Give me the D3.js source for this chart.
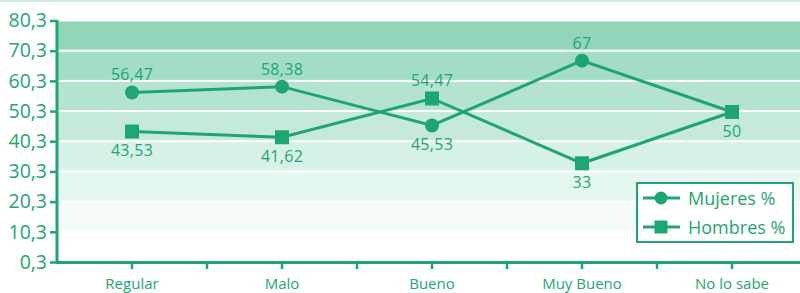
<!DOCTYPE html>
<html>
<head>
<meta charset="utf-8">
<script src="https://cdn.jsdelivr.net/npm/d3@7"></script>
<style>
  body { margin: 0; background: #fff; }
  svg { display: block; font-family: "Open Sans", sans-serif; }
</style>
</head>
<body>
<div id="chart"></div>
<script>
// Data
var categories = ["Regular", "Malo", "Bueno", "Muy Bueno", "No lo sabe"];
var mujeres = [56.47, 58.38, 45.53, 67, 50];
var hombres = [43.53, 41.62, 54.47, 33, 50];
var yTicks = [0.3, 10.3, 20.3, 30.3, 40.3, 50.3, 60.3, 70.3, 80.3];
var seriesNames = ["Mujeres %", "Hombres %"];

var width = 800, height = 293;
var green = "#1ea672";
// band fills from the top band down
var bandColors = ["#92d6ba", "#a3ddc5", "#b4e4cf", "#c5eada", "#d6f1e5", "#e6f7ef", "#f5fbf8", "#ffffff"];

var svg = d3.select("#chart").append("svg")
    .attr("width", width)
    .attr("height", height);

var x = d3.scaleBand()
    .domain(categories)
    .range([57, 807])
    .paddingInner(0).paddingOuter(0);

var y = d3.scaleLinear()
    .domain([yTicks[0], yTicks[yTicks.length - 1]])
    .range([262, 20.5]);

var fmt = function(v) { return String(v).replace(".", ","); };

// faint rule at the top edge
svg.append("rect")
    .attr("x", 0).attr("y", 0).attr("width", width).attr("height", 2)
    .attr("fill", "#cdeee0");

// background bands, top band first
var bands = d3.range(yTicks.length - 1).map(function(i) {
  return { lo: yTicks[yTicks.length - 2 - i], hi: yTicks[yTicks.length - 1 - i], c: bandColors[i] };
});

svg.append("g").selectAll("rect")
    .data(bands)
  .enter().append("rect")
    .attr("x", 58)
    .attr("y", function(d) { return y(d.hi) + 1; })
    .attr("width", width - 58)
    .attr("height", function(d) { return y(d.lo) - y(d.hi) - 2; })
    .attr("fill", function(d) { return d.c; });

// Y axis
var yAxis = svg.append("g")
    .attr("transform", "translate(57,0)")
    .call(d3.axisLeft(y)
        .tickValues(yTicks)
        .tickSize(7)
        .tickPadding(3)
        .tickFormat(fmt));

yAxis.select(".domain").attr("stroke", green).attr("stroke-width", 3)
    .attr("d", "M0," + (y(yTicks[yTicks.length - 1]) - 0.5) + "V263.5");
yAxis.selectAll(".tick line").attr("stroke", green).attr("stroke-width", 2.5);
yAxis.selectAll(".tick text")
    .attr("fill", green)
    .attr("font-size", 19.5)
    .attr("font-family", "Open Sans");

// X axis: ticks at band edges and centres
var xTickPos = [];
categories.forEach(function(c) {
  xTickPos.push(x(c) + x.bandwidth());
  xTickPos.push(x(c) + x.bandwidth() / 2);
});

var xg = svg.append("g");
xg.append("line")
    .attr("x1", 56).attr("x2", width)
    .attr("y1", 262.5).attr("y2", 262.5)
    .attr("stroke", green).attr("stroke-width", 3);
xg.selectAll("line.tk")
    .data(xTickPos)
  .enter().append("line")
    .attr("class", "tk")
    .attr("x1", function(d) { return d; }).attr("x2", function(d) { return d; })
    .attr("y1", 262).attr("y2", 269)
    .attr("stroke", green).attr("stroke-width", 2.5);
xg.selectAll("text")
    .data(categories)
  .enter().append("text")
    .attr("x", function(d) { return x(d) + x.bandwidth() / 2; })
    .attr("y", 289)
    .attr("text-anchor", "middle")
    .attr("fill", green)
    .attr("font-size", 15)
    .text(function(d) { return d; });

// Lines
var line = d3.line()
    .x(function(d, i) { return x(categories[i]) + x.bandwidth() / 2; })
    .y(function(d) { return y(d); });

[mujeres, hombres].forEach(function(s) {
  svg.append("path")
      .datum(s)
      .attr("d", line)
      .attr("fill", "none")
      .attr("stroke", green)
      .attr("stroke-width", 3);
});

// Markers
svg.append("g").selectAll("circle")
    .data(mujeres)
  .enter().append("circle")
    .attr("cx", function(d, i) { return x(categories[i]) + x.bandwidth() / 2; })
    .attr("cy", function(d) { return y(d); })
    .attr("r", 7)
    .attr("fill", green);

svg.append("g").selectAll("rect")
    .data(hombres)
  .enter().append("rect")
    .attr("x", function(d, i) { return x(categories[i]) + x.bandwidth() / 2 - 7; })
    .attr("y", function(d) { return y(d) - 7; })
    .attr("width", 14).attr("height", 14)
    .attr("fill", green);

// Value labels: higher value above, lower below, a tie gets one label below
var labels = [];
categories.forEach(function(c, i) {
  var m = mujeres[i], h = hombres[i];
  if (m === h) {
    labels.push({ i: i, v: m, above: false });
  } else {
    labels.push({ i: i, v: m, above: m > h });
    labels.push({ i: i, v: h, above: h > m });
  }
});

svg.append("g").selectAll("text")
    .data(labels)
  .enter().append("text")
    .attr("x", function(d) { return x(categories[d.i]) + x.bandwidth() / 2; })
    .attr("y", function(d) { return y(d.v) + (d.above ? -12 : 25); })
    .attr("text-anchor", "middle")
    .attr("fill", green)
    .attr("font-size", 16)
    .attr("letter-spacing", 0.3)
    .text(function(d) { return fmt(d.v); });

// Legend
var lg = svg.append("g").attr("transform", "translate(637,183)");
lg.append("rect")
    .attr("width", 156).attr("height", 59)
    .attr("fill", "#fff")
    .attr("stroke", green).attr("stroke-width", 2);

seriesNames.forEach(function(name, i) {
  var cy = 15 + i * 29;
  lg.append("line")
      .attr("x1", 6).attr("x2", 43)
      .attr("y1", cy).attr("y2", cy)
      .attr("stroke", green).attr("stroke-width", 2.8);
  if (i === 0) {
    lg.append("circle").attr("cx", 24).attr("cy", cy).attr("r", 6.5).attr("fill", green);
  } else {
    lg.append("rect").attr("x", 17.5).attr("y", cy - 6.5).attr("width", 13).attr("height", 13).attr("fill", green);
  }
  lg.append("text")
      .attr("x", 51).attr("y", cy + 6.5)
      .attr("fill", green)
      .attr("font-size", 18)
      .text(name);
});
</script>
</body>
</html>
